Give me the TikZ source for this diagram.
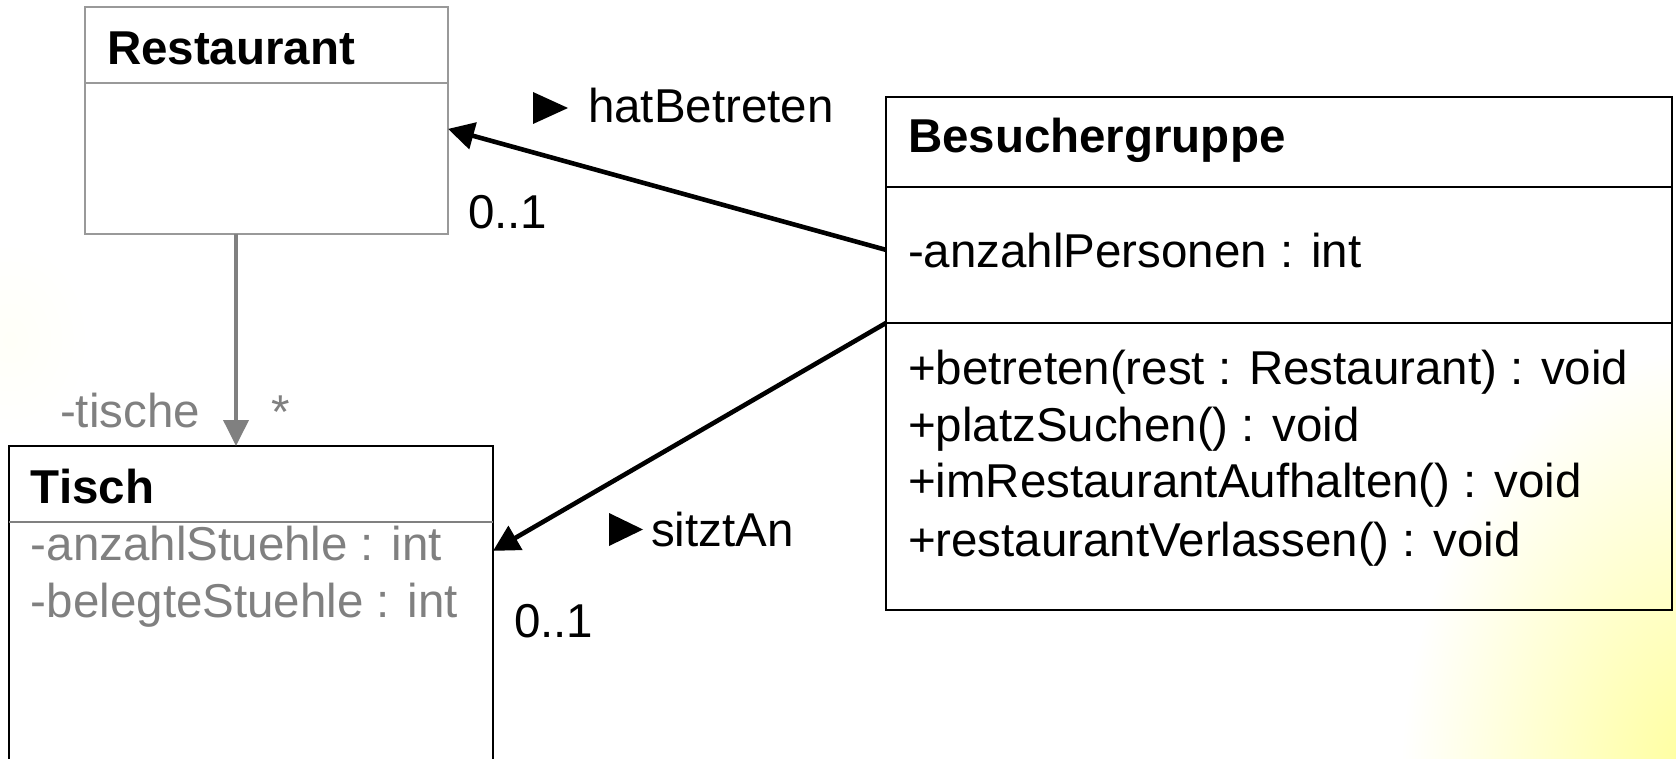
\documentclass[tikz,border=0pt]{standalone}
\usepackage{fontspec}
\setmainfont{Liberation Sans}
\usetikzlibrary{arrows.meta,calc}

\definecolor{umlgray}{HTML}{808080}
\definecolor{framegray}{HTML}{999999}
\definecolor{glow}{HTML}{FFFF99}

\tikzset{
  classbox/.style={draw, rectangle, anchor=north west, inner sep=0pt, outer sep=0pt, line width=1pt},
  txt/.style={anchor=base west, inner sep=0pt, outer sep=0pt, font=\fontsize{23.75pt}{28pt}\selectfont},
  title/.style={txt, font=\fontsize{23.75pt}{28pt}\selectfont\bfseries},
  graytxt/.style={txt, text=umlgray},
  assoc/.style={line width=2.3pt, -{Triangle[length=13pt,width=13.5pt]}},
  navig/.style={line width=1.9pt, draw=umlgray, -{Triangle[length=13pt,width=12.5pt]}},
}

\begin{document}
\begin{tikzpicture}[x=0.5pt, y=-0.5pt]
  % canvas and soft highlight in the lower right corner
  \useasboundingbox (0,0) rectangle (1676,759);
  \clip (0,0) rectangle (1676,759);
  \fill[white] (0,0) rectangle (1676,759);
  \shade[inner color=glow, outer color=white] (1700,790) ellipse [x radius=300, y radius=440];
  \shade[inner color=glow!7, outer color=white] (10,340) ellipse [x radius=80, y radius=100];

  % class Restaurant
  \node[classbox, draw=framegray, minimum width=181.5pt, minimum height=113.5pt] (rest) at (85,7) {};
  \draw[framegray, line width=1pt] (rest.west |- 0,83) -- (rest.east |- 0,83);
  \node[title] (restname) at (107,65) {Restaurant};

  % class Tisch (continues below the lower edge)
  \node[classbox, minimum width=242pt, minimum height=167pt] (tisch) at (9,446) {};
  \draw[umlgray, line width=1pt] (tisch.west |- 0,522) -- (tisch.east |- 0,522);
  \node[title] (tischname) at (31,503) {Tisch};
  \node[graytxt] (ta1) at (31,560) {-anzahlStuehle : int};
  \node[graytxt] (ta2) at (31,617) {-belegteStuehle : int};

  % class Besuchergruppe
  \node[classbox, minimum width=393pt, minimum height=256.5pt] (bes) at (886,97) {};
  \draw[line width=1pt] (bes.west |- 0,187) -- (bes.east |- 0,187);
  \draw[line width=1pt] (bes.west |- 0,323) -- (bes.east |- 0,323);
  \node[title] (besname) at (908,153) {Besuchergruppe};
  \node[txt] (ba1) at (908,268) {-anzahlPersonen : int};
  \node[txt] (bm1) at (908,384) {+betreten(rest : Restaurant) : void};
  \node[txt] (bm2) at (908,441) {+platzSuchen() : void};
  \node[txt] (bm3) at (908,497) {+imRestaurantAufhalten() : void};
  \node[txt] (bm4) at (908,556) {+restaurantVerlassen() : void};

  % association Restaurant -> Tisch
  \coordinate (navstart) at ($(rest.south west)!0.416!(rest.south east)$);
  \draw[navig] (navstart) -- (navstart |- tisch.north);
  \node[graytxt] (rolename) at (60,427) {-tische};
  \node[graytxt] (rolemult) at (271,428) {*};

  % association hatBetreten
  \draw[assoc] ($(bes.north west)!0.298!(bes.south west)$) -- ($(rest.north east)!0.537!(rest.south east)$);
  \node[txt] (hbname) at (588,123) {hatBetreten};
  \fill (533,92) -- (568,108) -- (533,124) -- cycle;
  \node[txt] (hbmult) at (468,229) {0..1};

  % association sitztAn
  \draw[assoc] ($(bes.north west)!0.4405!(bes.south west)$) -- ($(tisch.north east)!0.314!(tisch.south east)$);
  \node[txt] (saname) at (651,546) {sitztAn};
  \fill (609,513) -- (643,529.5) -- (609,546) -- cycle;
  \node[txt] (samult) at (514,637) {0..1};
\end{tikzpicture}
\end{document}
